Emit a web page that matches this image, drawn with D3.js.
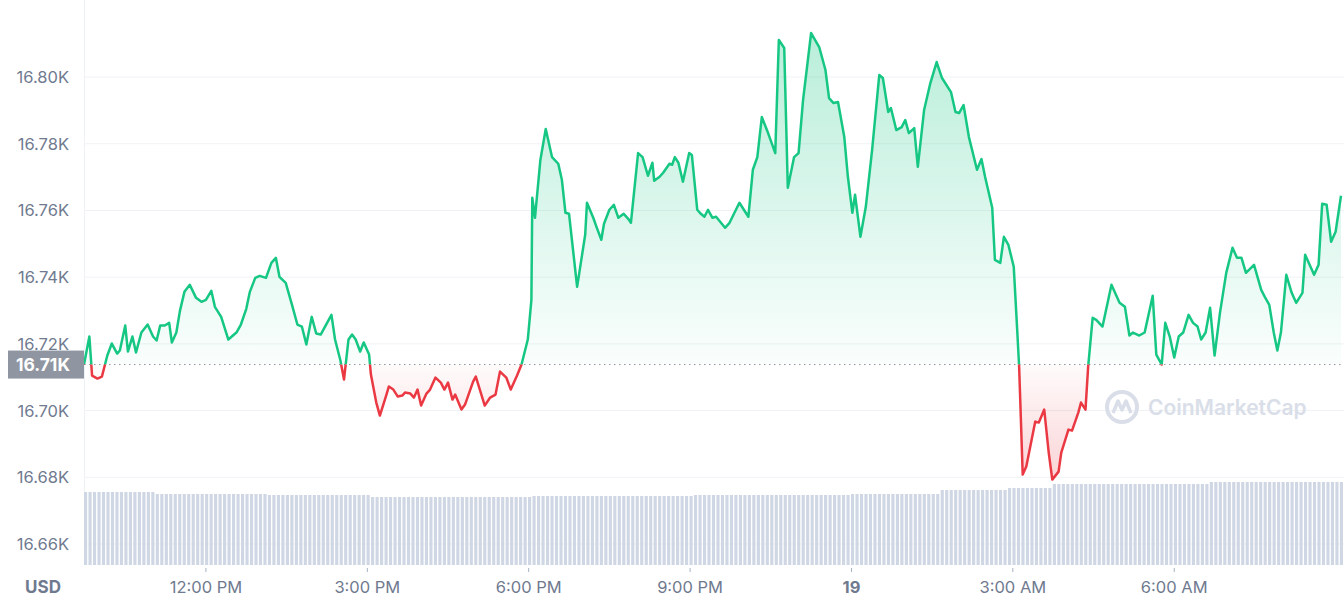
<!DOCTYPE html>
<html><head><meta charset="utf-8">
<script src="https://cdn.jsdelivr.net/npm/d3@7"></script>
<style>body{margin:0;background:#fff;}svg{font-family:Inter,"Noto Sans",sans-serif;}</style>
</head><body>
<svg id="c" width="1344" height="603"></svg>
<script>
// minutes after 9:44 AM (Dec 18)
const minutes = [0,6,9,15,20,26,31,37,40,46,49,54,58,64,71,77,81,85,90,95,98,103,107,112,118,125,131,136,142,146,153,161,170,175,181,185,191,196,203,209,214,218,225,232,238,243,248,254,259,264,276,280,286,290,295,299,303,308,312,318,320,326,330,337,340,345,350,355,358,364,368,372,376,382,386,392,398,402,406,411,414,421,425,434,437,447,453,459,464,471,476,483,488,495,499,500,503,509,515,522,529,533,537,541,550,559,561,568,572,577,580,586,591,596,602,607,610,618,623,629,634,636,642,646,653,656,659,663,668,675,678,684,688,692,696,701,705,715,720,731,741,746,751,756,763,771,775,781,785,792,797,802,811,820,827,831,836,841,848,852,857,860,866,872,879,887,891,897,900,906,912,916,920,926,930,937,944,951,957,967,972,976,981,987,996,1001,1005,1013,1016,1022,1026,1031,1037,1041,1043,1047,1051,1061,1065,1071,1076,1080,1087,1090,1098,1102,1109,1112,1117,1120,1125,1129,1136,1146,1155,1161,1166,1170,1177,1183,1192,1196,1202,1206,1211,1216,1221,1226,1232,1237,1242,1246,1251,1256,1261,1267,1274,1281,1286,1291,1296,1305,1313,1317,1322,1327,1331,1335,1341,1347,1352,1359,1362,1372,1377,1381,1386,1391,1396,1402];
const prices = [16713.8,16722.2,16710.5,16709.6,16710.2,16716.5,16720.1,16717.1,16718.0,16725.5,16717.7,16722.2,16717.4,16723.4,16725.8,16722.2,16721.0,16725.5,16725.5,16726.3,16720.4,16723.4,16729.9,16735.6,16737.7,16733.8,16732.6,16733.2,16735.9,16731.1,16728.1,16721.3,16723.4,16725.8,16730.5,16735.6,16739.8,16740.4,16739.8,16744.3,16745.8,16740.1,16738.3,16731.7,16725.8,16725.2,16719.8,16728.1,16723.1,16722.8,16728.7,16721.3,16715.0,16709.3,16721.3,16722.8,16721.3,16717.7,16720.4,16716.8,16710.8,16702.4,16698.5,16704.5,16707.2,16706.3,16704.2,16704.5,16705.4,16705.1,16703.9,16706.3,16701.5,16705.1,16706.3,16709.9,16708.4,16706.3,16708.4,16703.3,16704.8,16700.3,16701.8,16708.7,16710.2,16701.5,16703.9,16704.8,16711.7,16709.9,16706.3,16710.5,16713.8,16721.3,16733.2,16763.8,16757.8,16775.1,16784.4,16776.0,16774.0,16769.2,16759.3,16759.0,16737.1,16752.7,16762.3,16757.8,16754.8,16751.2,16756.0,16760.2,16761.7,16757.8,16759.0,16757.5,16756.3,16777.2,16776.0,16770.4,16774.3,16768.9,16770.1,16771.3,16774.0,16773.7,16776.0,16774.3,16768.6,16777.2,16776.6,16760.2,16759.0,16758.1,16760.2,16757.8,16758.1,16754.8,16756.3,16762.3,16758.1,16772.2,16776.0,16788.0,16783.2,16777.2,16811.1,16808.7,16766.8,16776.0,16777.2,16793.1,16813.2,16809.0,16802.1,16793.7,16792.2,16792.5,16782.0,16770.1,16759.3,16764.7,16752.1,16761.1,16778.1,16800.6,16799.7,16789.5,16790.7,16784.1,16785.0,16787.1,16783.2,16784.7,16773.1,16790.1,16798.2,16804.5,16799.7,16795.5,16789.5,16789.2,16791.6,16782.0,16772.2,16775.4,16770.1,16760.8,16745.2,16744.3,16752.1,16749.7,16743.1,16723.4,16713.2,16680.8,16683.2,16696.7,16696.4,16700.3,16687.4,16679.3,16681.7,16687.4,16694.3,16694.0,16699.4,16702.4,16700.3,16713.2,16727.8,16727.2,16725.2,16737.7,16732.3,16731.1,16722.5,16723.4,16722.5,16723.4,16734.4,16716.8,16713.8,16726.3,16722.2,16715.9,16722.2,16723.4,16728.7,16726.3,16725.2,16721.3,16723.4,16730.8,16716.5,16729.3,16741.3,16748.8,16745.8,16745.8,16741.3,16743.7,16736.2,16734.1,16731.7,16723.4,16718.0,16723.4,16740.7,16735.3,16732.3,16735.3,16746.7,16740.7,16743.7,16762.0,16761.7,16750.6,16753.6,16764.4];
const volumes = [73,73,73,73,73,73,73,73,73,73,73,73,73,73,73,73,
71,71,71,71,71,71,71,71,71,71,71,71,71,71,71,71,71,71,71,71,71,71,71,71,71,
70,70,70,70,70,70,70,70,70,70,70,70,70,70,70,70,70,70,70,70,70,70,70,
68,68,68,68,68,68,68,68,68,68,68,68,68,68,68,68,68,68,68,68,68,68,68,68,68,68,68,68,68,68,68,68,68,68,68,68,
69,69,69,69,69,69,69,69,69,69,69,69,69,69,69,69,69,69,69,69,69,69,69,69,69,69,69,69,69,69,69,69,69,69,69,69,
70,70,70,70,70,70,70,70,70,70,70,70,70,70,70,70,70,70,70,70,70,70,70,70,70,70,70,70,70,70,70,70,70,70,70,
71,71,71,71,71,71,71,71,71,71,71,71,71,71,71,71,71,71,71,71,
75,75,75,75,75,75,75,75,75,75,75,75,75,75,75,
77,77,77,77,77,77,77,77,77,77,
81,81,81,81,81,81,81,81,81,81,81,81,81,81,81,81,81,81,81,81,81,81,81,81,81,81,81,81,81,81,81,81,81,81,81,
83,83,83,83,83,83,83,83,83,83,83,83,83,83,83,83,83,83,83,83,83,83,83,83,83,83,83,83,83,83];
const yTicks = [16660,16680,16700,16720,16740,16760,16780,16800];
const yTickLabels = ["16.66K","16.68K","16.70K","16.72K","16.74K","16.76K","16.78K","16.80K"];
const xTickHours = [12,15,18,21,24,27,30];
const xTickLabels = ["12:00 PM","3:00 PM","6:00 PM","9:00 PM","19","3:00 AM","6:00 AM"];
const basePrice = 16713.8;
const baseLabel = "16.71K";

const svg = d3.select("#c");
const L = 84, R = 1344, B = 565;
const t0 = Date.UTC(2022,11,18,9,44);
const tm = (m) => new Date(t0 + m*60000);
const x = d3.scaleUtc().domain([tm(0), tm(1402)]).range([L, 1341]);
const y = d3.scaleLinear().domain([16653.7, 16823.1]).range([B, 0]);
const data = minutes.map((m,i)=>({t:tm(m), p:prices[i]}));
const green="#16c784", red="#ea3943", txt="#6f7a8f";

svg.append("g").selectAll("line").data(yTicks).join("line")
  .attr("x1",L).attr("x2",R).attr("y1",d=>y(d)).attr("y2",d=>y(d))
  .attr("stroke","#eff2f5");
svg.append("line").attr("x1",L+0.5).attr("x2",L+0.5).attr("y1",0).attr("y2",B).attr("stroke","#eff2f5");

const vx = d3.scaleBand().domain(d3.range(volumes.length)).range([L, 1343]).paddingInner(0.3);
const vy = d3.scaleLinear().domain([0, 84]).range([B, 481]);
svg.append("g").selectAll("rect").data(volumes).join("rect")
  .attr("x",(d,i)=>vx(i)).attr("width",vx.bandwidth()).attr("y",d=>vy(d)).attr("height",d=>B-vy(d))
  .attr("fill","#cfd6e4");

const wm = svg.append("g").attr("transform","translate(1122,407)");
wm.append("circle").attr("r",15).attr("fill","none").attr("stroke","#d9dee8").attr("stroke-width",4);
wm.append("path").attr("d","M-9,6 L-4,-6 L0,3 L4,-6 L9,6").attr("fill","none").attr("stroke","#d9dee8").attr("stroke-width",3.5).attr("stroke-linejoin","round");
wm.append("text").attr("x",26).attr("y",8).attr("font-size",21).attr("font-weight",600).attr("fill","#d9dee8").text("CoinMarketCap");

const defs = svg.append("defs");
const by = y(basePrice);
const gg = defs.append("linearGradient").attr("id","gg").attr("gradientUnits","userSpaceOnUse").attr("x1",0).attr("x2",0).attr("y1",y(16813)).attr("y2",by);
gg.append("stop").attr("offset",0).attr("stop-color",green).attr("stop-opacity",0.3);
gg.append("stop").attr("offset",1).attr("stop-color",green).attr("stop-opacity",0.02);
const rg = defs.append("linearGradient").attr("id","rg").attr("gradientUnits","userSpaceOnUse").attr("x1",0).attr("x2",0).attr("y1",by).attr("y2",y(16679));
rg.append("stop").attr("offset",0).attr("stop-color",red).attr("stop-opacity",0.02);
rg.append("stop").attr("offset",1).attr("stop-color",red).attr("stop-opacity",0.22);
defs.append("clipPath").attr("id","above").append("rect").attr("x",0).attr("y",0).attr("width",1344).attr("height",by);
defs.append("clipPath").attr("id","below").append("rect").attr("x",0).attr("y",by).attr("width",1344).attr("height",603-by);

const area = d3.area().x(d=>x(d.t)).y0(by).y1(d=>y(d.p));
const line = d3.line().x(d=>x(d.t)).y(d=>y(d.p));
svg.append("path").datum(data).attr("d",area).attr("fill","url(#gg)").attr("clip-path","url(#above)");
svg.append("path").datum(data).attr("d",area).attr("fill","url(#rg)").attr("clip-path","url(#below)");

svg.append("line").attr("x1",L).attr("x2",R).attr("y1",by).attr("y2",by)
  .attr("stroke","#8f96a3").attr("stroke-dasharray","1.5,3.5").attr("stroke-width",1);

svg.append("path").datum(data).attr("d",line).attr("fill","none").attr("stroke",green).attr("stroke-width",2.5).attr("stroke-linejoin","round").attr("clip-path","url(#above)");
svg.append("path").datum(data).attr("d",line).attr("fill","none").attr("stroke",red).attr("stroke-width",2.5).attr("stroke-linejoin","round").attr("clip-path","url(#below)");

svg.append("g").selectAll("text").data(yTicks).join("text")
  .attr("x",69).attr("y",d=>y(d)+6).attr("text-anchor","end").attr("font-size",16.5).attr("fill",txt)
  .text((d,i)=>yTickLabels[i]);

svg.append("rect").attr("x",8).attr("y",by-14).attr("width",76).attr("height",28).attr("fill","#8f96a1");
svg.append("text").attr("x",70).attr("y",by+6.5).attr("text-anchor","end").attr("font-size",17.5).attr("font-weight",700).attr("fill","#fff").text(baseLabel);

const xt = xTickHours.map(h=>new Date(Date.UTC(2022,11,18,0,0)+h*3600000));
svg.append("g").selectAll("line").data(xt).join("line")
  .attr("x1",d=>x(d)).attr("x2",d=>x(d)).attr("y1",568).attr("y2",572).attr("stroke","#a6b0c3");
svg.append("g").selectAll("text").data(xt).join("text")
  .attr("x",d=>x(d)).attr("y",593).attr("text-anchor","middle").attr("font-size",16.5)
  .attr("font-weight",(d,i)=>xTickLabels[i]==="19"?700:400).attr("fill",txt)
  .text((d,i)=>xTickLabels[i]);
svg.append("text").attr("x",43).attr("y",593).attr("text-anchor","middle").attr("font-size",17).attr("font-weight",700).attr("fill",txt).text("USD");
</script>
</body></html>
